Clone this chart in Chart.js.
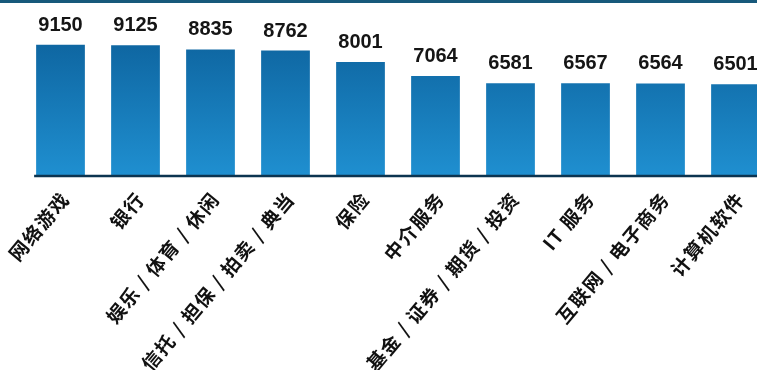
<!DOCTYPE html>
<html>
<head>
<meta charset="utf-8">
<script src="https://cdn.jsdelivr.net/npm/chart.js@4.4.1/dist/chart.umd.min.js"></script>
<style>
  html, body { margin: 0; padding: 0; background: #fff; overflow: hidden; }
  #wrap { width: 757px; height: 370px; overflow: hidden; }
</style>
</head>
<body>
<div id="wrap"><canvas id="bars" width="780" height="370"></canvas></div>
<script>
// monthly pay by industry (yuan)
const industries = ['网络游戏', '银行', '娱乐 / 体育 / 休闲', '信托 / 担保 / 拍卖 / 典当', '保险',
                    '中介服务', '基金 / 证券 / 期货 / 投资', 'IT 服务', '互联网 / 电子商务', '计算机软件'];
const salaries = [9150, 9125, 8835, 8762, 8001, 7064, 6581, 6567, 6564, 6501];

const LABEL_ANGLE = -50 * Math.PI / 180;

// thin rule across the top
const topBand = {
    id: 'topBand',
    beforeDraw(chart) {
        const ctx = chart.ctx;
        ctx.save();
        ctx.fillStyle = '#17597b';
        ctx.fillRect(0, 0, chart.width, 3);
        ctx.restore();
    }
};

// numbers over the bars, the dark base line and the slanted category names
const valueLabels = {
    id: 'valueLabels',
    afterDatasetsDraw(chart) {
        const ctx = chart.ctx;
        const bars = chart.getDatasetMeta(0).data;
        const xScale = chart.scales.x;
        const bottom = chart.chartArea.bottom;
        ctx.save();
        ctx.font = 'bold 20px "Liberation Sans", Arial, sans-serif';
        ctx.fillStyle = '#151515';
        ctx.textAlign = 'center';
        ctx.textBaseline = 'alphabetic';
        bars.forEach((bar, i) => {
            ctx.fillText(String(salaries[i]), bar.x, bar.y - 14);
        });

        const first = bars[0];
        ctx.strokeStyle = '#0c3450';
        ctx.lineWidth = 2.5;
        ctx.beginPath();
        ctx.moveTo(first.x - first.width / 2 - 2, bottom + 1);
        ctx.lineTo(chart.chartArea.right, bottom + 1);
        ctx.stroke();

        ctx.font = 'bold 19px "Noto Sans CJK SC", sans-serif';
        ctx.letterSpacing = '1.5px';
        ctx.fillStyle = '#111';
        ctx.textAlign = 'right';
        ctx.textBaseline = 'middle';
        industries.forEach((name, i) => {
            ctx.save();
            ctx.translate(xScale.getPixelForTick(i) + 5, bottom + 20);
            ctx.rotate(LABEL_ANGLE);
            ctx.fillText(name, 0, 0);
            ctx.restore();
        });
        ctx.restore();
    }
};

function barFill(context) {
    const area = context.chart.chartArea;
    if (!area) return '#1579b8';
    const g = context.chart.ctx.createLinearGradient(0, 40, 0, area.bottom);
    g.addColorStop(0, '#0e65a0');
    g.addColorStop(1, '#1f8fd0');
    return g;
}

new Chart(document.getElementById('bars'), {
    type: 'bar',
    data: {
        labels: industries,
        datasets: [{
            data: salaries,
            backgroundColor: barFill,
            borderWidth: 0,
            barPercentage: 0.65,
            categoryPercentage: 1.0
        }]
    },
    options: {
        responsive: false,
        animation: false,
        devicePixelRatio: 1,
        layout: { padding: { top: 5, left: 23, right: 7, bottom: 0 } },
        plugins: {
            legend: { display: false },
            tooltip: { enabled: false }
        },
        scales: {
            x: {
                grid: { display: false },
                border: { display: false },
                ticks: { display: false },
                afterFit(scale) { scale.height = 195; }
            },
            y: {
                display: false,
                min: 430,
                max: 11815
            }
        }
    },
    plugins: [topBand, valueLabels]
});
</script>
</body>
</html>
